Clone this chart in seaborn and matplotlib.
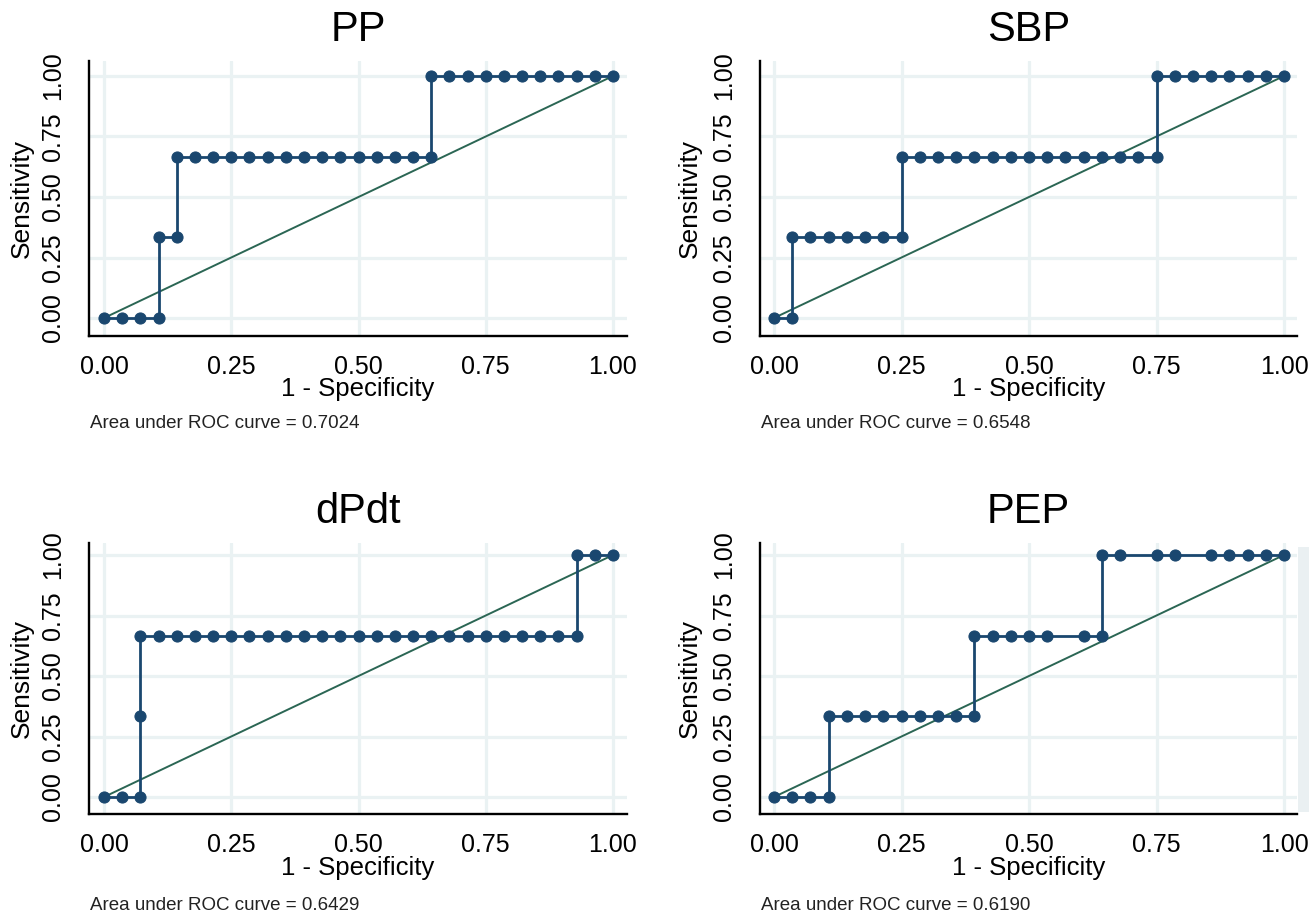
import matplotlib
matplotlib.use("Agg")
import matplotlib.pyplot as plt
from matplotlib.patches import Rectangle
import pandas as pd
import seaborn as sns

# ---------------- data ----------------
titles = ["PP", "SBP", "dPdt", "PEP"]
auc_values = ["0.7024", "0.6548", "0.6429", "0.6190"]

pp_fpr = [0.0, 0.0357, 0.0714, 0.1071, 0.1071, 0.1429, 0.1429, 0.1786, 0.2143, 0.25,
          0.2857, 0.3214, 0.3571, 0.3929, 0.4286, 0.4643, 0.5, 0.5357, 0.5714, 0.6071,
          0.6429, 0.6429, 0.6786, 0.7143, 0.75, 0.7857, 0.8214, 0.8571, 0.8929, 0.9286,
          0.9643, 1.0]
pp_tpr = [0.0, 0.0, 0.0, 0.0, 0.3333, 0.3333, 0.6667, 0.6667, 0.6667, 0.6667,
          0.6667, 0.6667, 0.6667, 0.6667, 0.6667, 0.6667, 0.6667, 0.6667, 0.6667, 0.6667,
          0.6667, 1.0, 1.0, 1.0, 1.0, 1.0, 1.0, 1.0, 1.0, 1.0,
          1.0, 1.0]

sbp_fpr = [0.0, 0.0357, 0.0357, 0.0714, 0.1071, 0.1429, 0.1786, 0.2143, 0.25, 0.25,
           0.2857, 0.3214, 0.3571, 0.3929, 0.4286, 0.4643, 0.5, 0.5357, 0.5714, 0.6071,
           0.6429, 0.6786, 0.7143, 0.75, 0.75, 0.7857, 0.8214, 0.8571, 0.8929, 0.9286,
           0.9643, 1.0]
sbp_tpr = [0.0, 0.0, 0.3333, 0.3333, 0.3333, 0.3333, 0.3333, 0.3333, 0.3333, 0.6667,
           0.6667, 0.6667, 0.6667, 0.6667, 0.6667, 0.6667, 0.6667, 0.6667, 0.6667, 0.6667,
           0.6667, 0.6667, 0.6667, 0.6667, 1.0, 1.0, 1.0, 1.0, 1.0, 1.0,
           1.0, 1.0]

dpdt_fpr = [0.0, 0.0357, 0.0714, 0.0714, 0.0714, 0.1071, 0.1429, 0.1786, 0.2143, 0.25,
            0.2857, 0.3214, 0.3571, 0.3929, 0.4286, 0.4643, 0.5, 0.5357, 0.5714, 0.6071,
            0.6429, 0.6786, 0.7143, 0.75, 0.7857, 0.8214, 0.8571, 0.8929, 0.9286, 0.9286,
            0.9643, 1.0]
dpdt_tpr = [0.0, 0.0, 0.0, 0.3333, 0.6667, 0.6667, 0.6667, 0.6667, 0.6667, 0.6667,
            0.6667, 0.6667, 0.6667, 0.6667, 0.6667, 0.6667, 0.6667, 0.6667, 0.6667, 0.6667,
            0.6667, 0.6667, 0.6667, 0.6667, 0.6667, 0.6667, 0.6667, 0.6667, 0.6667, 1.0,
            1.0, 1.0]

pep_fpr = [0.0, 0.0357, 0.0714, 0.1071, 0.1071, 0.1429, 0.1786, 0.2143, 0.25, 0.2857,
           0.3214, 0.3571, 0.3929, 0.3929, 0.4286, 0.4643, 0.5, 0.5357, 0.6071, 0.6429,
           0.6429, 0.6786, 0.75, 0.7857, 0.8571, 0.8929, 0.9286, 0.9643, 1.0]
pep_tpr = [0.0, 0.0, 0.0, 0.0, 0.3333, 0.3333, 0.3333, 0.3333, 0.3333, 0.3333,
           0.3333, 0.3333, 0.3333, 0.6667, 0.6667, 0.6667, 0.6667, 0.6667, 0.6667, 0.6667,
           1.0, 1.0, 1.0, 1.0, 1.0, 1.0, 1.0, 1.0, 1.0]

ref_line = [0.0, 1.0]
tick_values = [0.0, 0.25, 0.5, 0.75, 1.0]
tick_labels = ["0.00", "0.25", "0.50", "0.75", "1.00"]

curves = [(pp_fpr, pp_tpr), (sbp_fpr, sbp_tpr), (dpdt_fpr, dpdt_tpr), (pep_fpr, pep_tpr)]

# ---------------- style ----------------
sns.set_theme(style="white")
plt.rcParams["font.family"] = ["Liberation Sans", "DejaVu Sans"]

NAVY = "#1a476f"
GREEN = "#2b6654"
GRID = "#eaf2f3"

W, H = 1311, 915
fig = plt.figure(figsize=(W / 100, H / 100), dpi=100)

# faint strip at right edge of the bottom-right panel
fig.patches.append(Rectangle((1298 / W, 1 - 812 / H), 11 / W, (812 - 547) / H,
                             transform=fig.transFigure, facecolor="#eaf0f2",
                             edgecolor="none", zorder=0))

# pixel layout: (left, right, top, bottom, x0px, x1px, y0px, y1px)
layout = [
    (89, 627, 61, 336, 104, 613, 318, 76),
    (760, 1297, 61, 336, 774, 1284, 318, 76),
    (89, 627, 543, 814, 104, 613, 797, 555),
    (760, 1297, 543, 814, 774, 1284, 797, 555),
]

for i, (title, auc, (fx, ty), lay) in enumerate(zip(titles, auc_values, curves, layout)):
    l, r, t, b, x0, x1, y0, y1 = lay
    ax = fig.add_axes([l / W, 1 - b / H, (r - l) / W, (b - t) / H])
    ax.patch.set_alpha(0)
    sx = x1 - x0
    sy = y0 - y1
    ax.set_xlim((l - x0) / sx, (r - x0) / sx)
    ax.set_ylim(-(b - y0) / sy, 1 + (y1 - t) / sy)

    ax.set_xticks(tick_values)
    ax.set_xticklabels(tick_labels)
    ax.set_yticks(tick_values)
    ax.set_yticklabels(tick_labels, rotation=90, va="center")
    ax.grid(True, color=GRID, linewidth=2.3)
    ax.set_axisbelow(True)

    df = pd.DataFrame({"fpr": fx, "tpr": ty})
    sns.lineplot(x=ref_line, y=ref_line, ax=ax, color=GREEN, linewidth=1.4,
                 estimator=None, sort=False)
    sns.lineplot(data=df, x="fpr", y="tpr", ax=ax, color=NAVY, linewidth=2.0,
                 marker="o", markersize=8, markeredgecolor=NAVY,
                 estimator=None, sort=False)

    for side in ["top", "right"]:
        ax.spines[side].set_visible(False)
    for side in ["left", "bottom"]:
        ax.spines[side].set_color("black")
        ax.spines[side].set_linewidth(1.7)

    ax.tick_params(axis="both", which="major", direction="out", length=6.5, width=1.6,
                   color="black", labelsize=18, labelcolor="black")
    ax.tick_params(axis="x", pad=7)
    ax.tick_params(axis="y", pad=11)

    ax.set_xlabel("1 - Specificity", fontsize=18.5, color="black")
    ax.set_ylabel("Sensitivity", fontsize=19, color="black")
    hpx = b - t
    wpx = r - l
    xlab_y = 389 if i < 2 else 868
    ax.xaxis.set_label_coords(0.5, -(xlab_y - b) / hpx)
    ax.xaxis.label.set_va("center")
    ylab_x = 22 if l < 400 else 690
    ax.yaxis.set_label_coords((ylab_x - l) / wpx, 0.5)
    ax.yaxis.label.set_va("center")

    ax.text(0.5, 1 + 31 / hpx, title, transform=ax.transAxes, ha="center",
            va="center", fontsize=30, color="black")

    note_y = 424 if i < 2 else 905
    fig.text((l + 1) / W, 1 - note_y / H, "Area under ROC curve = " + auc,
             ha="left", va="center", fontsize=13.5, color="#222222")

fig.savefig("out.png", dpi=100, facecolor="white")
